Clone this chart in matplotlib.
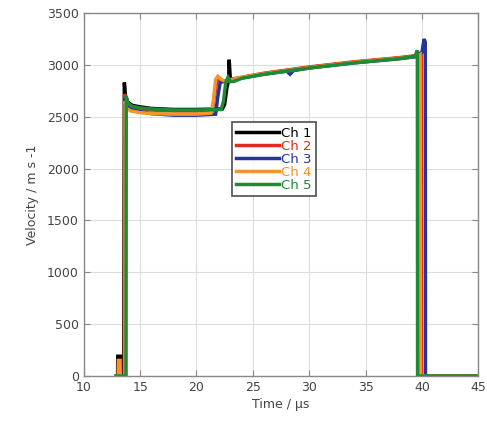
import numpy as np
import matplotlib.pyplot as plt

# velocity traces, one list pair per channel
t_ch1 = [12.9, 13.0, 13.02, 13.25, 13.27, 13.55, 13.6, 13.7, 13.9, 14.3, 15.0, 16.0, 18.0, 20.0,
         22.3, 22.5, 22.7, 22.85, 22.9, 23.0, 23.4, 24.0, 26.0, 28.0, 30.0, 32.0, 34.0, 36.0,
         38.0, 39.5, 39.7, 39.72, 45.0]
v_ch1 = [0, 0, 190, 190, 0, 0, 2830, 2700, 2640, 2610, 2595, 2580, 2570, 2570,
         2575, 2620, 2780, 2850, 3050, 2870, 2850, 2875, 2915, 2945, 2975, 3000, 3025, 3045,
         3065, 3085, 3100, 0, 0]

t_ch2 = [12.9, 13.6, 13.62, 13.8, 14.2, 15.0, 16.0, 18.0, 20.0, 21.4, 21.6, 21.8, 22.0, 22.4,
         23.0, 24.0, 26.0, 28.0, 30.0, 32.0, 34.0, 36.0, 38.0, 39.6, 39.95, 39.97, 45.0]
v_ch2 = [0, 0, 2720, 2640, 2600, 2580, 2565, 2555, 2555, 2560, 2700, 2840, 2860, 2840,
         2860, 2880, 2920, 2950, 2980, 3005, 3030, 3050, 3070, 3090, 3110, 0, 0]

t_ch3 = [12.9, 13.65, 13.67, 13.8, 14.2, 15.0, 16.0, 18.0, 20.0, 21.7, 21.9, 22.1, 22.4,
         23.0, 24.0, 26.0, 28.0, 28.3, 28.6, 30.0, 32.0, 34.0, 36.0, 38.0, 39.6, 40.0, 40.2,
         40.3, 40.32, 45.0]
v_ch3 = [0, 0, 2680, 2600, 2570, 2550, 2530, 2515, 2515, 2525, 2700, 2830, 2840,
         2855, 2875, 2910, 2940, 2910, 2945, 2970, 2995, 3020, 3040, 3060, 3080, 3120, 3250,
         3220, 0, 0]

t_ch4 = [12.9, 13.05, 13.07, 13.22, 13.24, 13.65, 13.67, 13.8, 14.2, 15.0, 16.0, 18.0, 20.0,
         21.3, 21.5, 21.7, 21.9, 22.2, 22.6, 23.0, 24.0, 26.0, 28.0, 30.0, 32.0, 34.0, 36.0,
         38.0, 39.6, 39.85, 39.87, 45.0]
v_ch4 = [0, 0, 150, 150, 0, 0, 2650, 2580, 2555, 2540, 2530, 2525, 2525,
         2535, 2650, 2860, 2890, 2860, 2840, 2855, 2880, 2915, 2945, 2975, 3000, 3025, 3045,
         3065, 3085, 3100, 0, 0]

t_ch5 = [12.9, 13.75, 13.77, 13.9, 14.3, 15.0, 16.0, 18.0, 20.0, 22.2, 22.4, 22.6, 22.8,
         23.0, 23.3, 24.0, 26.0, 28.0, 30.0, 32.0, 34.0, 36.0, 38.0, 39.4, 39.6, 39.62, 45.0]
v_ch5 = [0, 0, 2700, 2630, 2600, 2585, 2575, 2565, 2565, 2570, 2650, 2830, 2880,
         2840, 2840, 2870, 2910, 2940, 2970, 2995, 3020, 3040, 3060, 3085, 3140, 0, 0]

traces = [(t_ch1, v_ch1), (t_ch2, v_ch2), (t_ch3, v_ch3), (t_ch4, v_ch4), (t_ch5, v_ch5)]
names = ['Ch 1', 'Ch 2', 'Ch 3', 'Ch 4', 'Ch 5']
colors = ['#000000', '#e02a1c', '#25339a', '#f0962c', '#1d8a34']

xticks = [10, 15, 20, 25, 30, 35, 40, 45]
yticks = [0, 500, 1000, 1500, 2000, 2500, 3000, 3500]

fig = plt.figure(figsize=(4.87, 4.21), dpi=100, facecolor='white')
ax = fig.add_axes([0.172, 0.107, 0.81, 0.862])

for (t, v), name, color in zip(traces, names, colors):
    ax.plot(t, v, color=color, linewidth=2.5, label=name, solid_joinstyle='miter')

ax.set_xlim(10, 45)
ax.set_ylim(0, 3500)
ax.set_xticks(xticks)
ax.set_yticks(yticks)
ax.grid(True, color='#dddddd', linewidth=0.8)
ax.set_axisbelow(True)
ax.tick_params(direction='in', top=True, right=True, colors='#888888',
               labelcolor='#444444', labelsize=9, length=4)
for sp in ax.spines.values():
    sp.set_color('#888888')
    sp.set_linewidth(1.0)

ax.set_xlabel('Time / \u03bcs', fontsize=9, color='#444444', labelpad=3)
ax.set_ylabel('Velocity / m s -1', fontsize=9, color='#444444', labelpad=6)

leg = ax.legend(loc='upper left', bbox_to_anchor=(0.375, 0.70), fontsize=9.5,
                frameon=True, fancybox=False, handlelength=3.2, handletextpad=0.2,
                borderpad=0.35, labelspacing=0.0, borderaxespad=0)
leg.get_frame().set_edgecolor('#222222')
leg.get_frame().set_linewidth(1.2)
for txt, color in zip(leg.get_texts(), colors):
    txt.set_color(color)

fig.savefig('out.png', dpi=100, facecolor='white')
